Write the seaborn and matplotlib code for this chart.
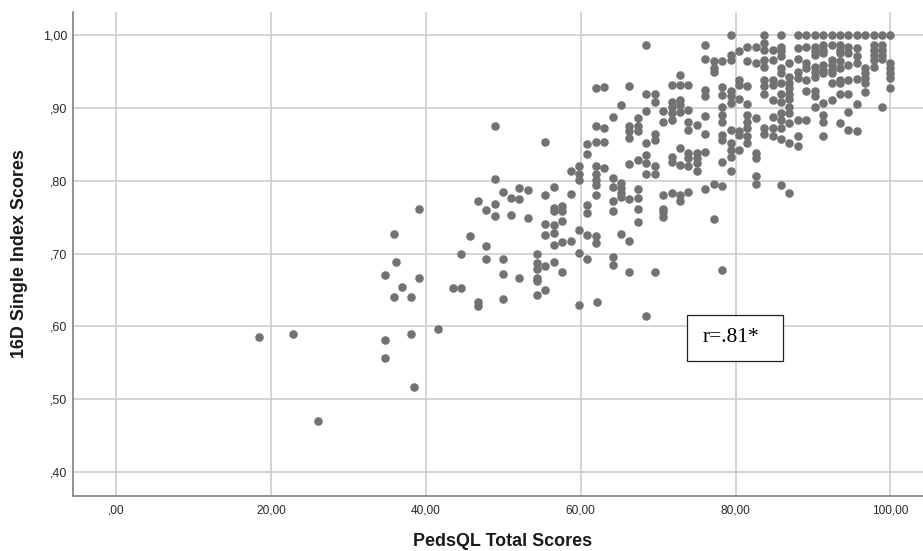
import numpy as np
import pandas as pd
import matplotlib.pyplot as plt
import seaborn as sns

# PedsQL totals come in steps of 100/92, 16D values listed per total score
high_x = [100.0, 98.91, 97.83, 96.74, 95.65, 94.57, 93.48, 92.39, 91.30, 90.22,
          89.13, 88.04, 86.96, 85.87, 84.78, 83.70, 82.61, 81.52, 80.43, 79.35]
high_y = [
    [1.0, .962, .955, .948, .941, .928],
    [1.0, .987, .98, .973, .967, .901],
    [1.0, .987, .98, .973, .966, .956],
    [1.0, .955, .948, .941, .934, .922],
    [1.0, .982, .971, .962, .94, .906, .869],
    [1.0, .984, .975, .959, .939, .92, .895, .87],
    [1.0, .987, .98, .975, .964, .955, .939, .934, .919, .88],
    [1.0, .987, .966, .959, .952, .948, .934, .911],
    [1.0, .987, .98, .975, .959, .952, .948, .907, .891, .881, .862],
    [1.0, .984, .978, .973, .957, .95, .943, .924, .916, .902],
    [1.0, .984, .962, .955, .939, .923, .883],
    [1.0, .982, .967, .95, .942, .883, .862, .848],
    [.962, .943, .934, .927, .92, .913, .902, .893, .879, .852, .783],
    [1.0, .984, .978, .971, .955, .948, .934, .92, .909, .893, .884, .872, .857, .794],
    [.98, .966, .939, .932, .911, .888, .872, .861],
    [1.0, .989, .98, .966, .957, .939, .93, .92, .872, .865],
    [.984, .962, .886, .838, .831, .806, .795],
    [.984, .964, .93, .906, .891, .881, .872, .861, .852],
    [.978, .939, .932, .913, .868, .863, .842],
    [1.0, .973, .966, .923, .916, .907, .87, .852, .842, .833, .813],
]

mid_x = [78.26, 77.17, 76.09, 75.0, 73.91, 72.83, 71.74, 70.65, 69.57, 68.48,
         67.39, 66.30, 65.22, 64.13, 63.04, 62.17, 61.96, 60.87]
mid_y = [
    [.965, .929, .918, .902, .891, .881, .863, .856, .826, .793, .678],
    [.965, .955, .95, .796, .747],
    [.987, .967, .925, .916, .889, .865, .84, .789],
    [.877, .838, .831, .824, .814],
    [.932, .897, .881, .87, .838, .831, .82, .784],
    [.946, .932, .911, .904, .895, .845, .822, .781, .772],
    [.932, .909, .902, .893, .884, .833, .826, .783],
    [.896, .881, .781, .762, .757, .751],
    [.92, .908, .865, .856, .82, .81, .675],
    [.987, .92, .896, .852, .836, .824, .81, .615],
    [.886, .875, .868, .829, .789, .776, .761, .744],
    [.93, .875, .868, .859, .823, .775, .718, .675],
    [.904, .797, .79, .783, .778, .727],
    [.888, .804, .792, .772, .759, .696, .685],
    [.929, .872, .853, .817],
    [.633],
    [.927, .875, .853, .82, .81, .801, .794, .781, .724, .715],
    [.85, .837, .767, .756, .725, .693],
]

low_x = [59.78, 58.70, 57.60, 56.50, 55.43, 54.35, 53.20, 52.10, 51.03, 50.0,
         48.88, 47.80, 46.70, 45.65, 44.57, 43.48, 41.60, 39.10, 38.50, 38.04,
         36.96, 36.20, 35.87, 34.78, 26.08, 22.85, 18.46]
low_y = [
    [.821, .81, .801, .732, .701, .63],
    [.813, .782, .718],
    [.766, .758, .745, .716, .675],
    [.792, .763, .758, .739, .728, .712, .688],
    [.854, .78, .741, .726, .683, .65],
    [.70, .687, .679, .666, .662, .643],
    [.788, .749],
    [.79, .775, .666],
    [.777, .753],
    [.784, .692, .672, .638],
    [.876, .802, .768, .752],
    [.76, .711, .693],
    [.773, .633, .628],
    [.724],
    [.70, .653],
    [.653],
    [.596],
    [.761, .667],
    [.517],
    [.641, .59],
    [.654],
    [.689],
    [.727, .641],
    [.671, .581, .557],
    [.47],
    [.59],
    [.585],
]

x_ticks = [0, 20, 40, 60, 80, 100]
x_labels = [",00", "20,00", "40,00", "60,00", "80,00", "100,00"]
y_ticks = [.4, .5, .6, .7, .8, .9, 1.0]
y_labels = [",40", ",50", ",60", ",70", ",80", ",90", "1,00"]

rows = []
for xs, ys in [(high_x, high_y), (mid_x, mid_y), (low_x, low_y)]:
    for total, scores in zip(xs, ys):
        rows += [(total, s) for s in scores]
df = pd.DataFrame(rows, columns=["total", "index"])

sns.set_style("white")
plt.rcParams['font.family'] = ['Liberation Sans', 'DejaVu Sans']

W, H = 923, 551
fig = plt.figure(figsize=(W / 100, H / 100), dpi=100)
ax = fig.add_axes([73 / W, 1 - 496 / H, (W - 73) / W, (496 - 12) / H])

sns.scatterplot(data=df, x="total", y="index", color="#727272", s=38,
                linewidth=0, zorder=3, clip_on=False, ax=ax)

ax.set_xlim(-5.55, 104.2)
ax.set_ylim(.367, 1.032)
ax.set_xticks(x_ticks, x_labels)
ax.set_yticks(y_ticks, y_labels)
ax.tick_params(length=0, labelsize=8.6, labelcolor="#2a2a2a", pad=6)
ax.tick_params(axis="y", pad=4, labelsize=9)
ax.grid(True, color="#c9c9c9", linewidth=1.1)
ax.set_axisbelow(True)
sns.despine(ax=ax)
for side in ["left", "bottom"]:
    ax.spines[side].set_color("#7f7f7f")
    ax.spines[side].set_linewidth(1.2)

ax.set_xlabel("PedsQL Total Scores", fontsize=12.9, fontweight="bold", color="#1a1a1a", va="center")
ax.set_ylabel("16D Single Index Scores", fontsize=12.9, fontweight="bold", color="#1a1a1a", va="center")
ax.xaxis.set_label_coords((503 - 73) / (W - 73), -(541 - 496) / (496 - 12))
ax.yaxis.set_label_coords(-(73 - 20) / (W - 73), .5)

fig.text(731 / W, 1 - 338 / H, "r=.81*", family=["Liberation Serif", "DejaVu Serif"],
         fontsize=15.5, color="black", ha="center", va="center", zorder=5)
box = plt.Rectangle((686.5 / W, 1 - 361 / H), 96.5 / W, 46 / H, transform=fig.transFigure,
                    fc="white", ec="#222222", lw=0.9, zorder=4)
fig.add_artist(box)

fig.savefig("out.png", dpi=100)
plt.close()
